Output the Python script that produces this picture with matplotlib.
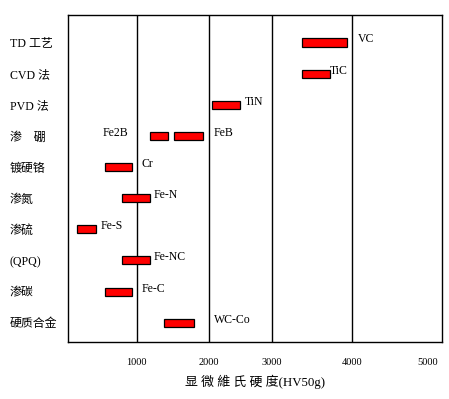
import numpy as np
import matplotlib
matplotlib.use("Agg")
import matplotlib.pyplot as plt

# ---- data ----
methods = ["TD 工艺", "CVD 法", "PVD 法", "渗　硼", "镀硬铬", "渗氮", "渗硫", "(QPQ)", "渗碳", "硬质合金"]
bar_rows = [0, 1, 2, 3, 3, 4, 5, 6, 7, 8, 9]
bar_start = [3380, 3380, 2060, 1180, 1520, 530, 790, 130, 790, 530, 1380]
bar_end = [3940, 3720, 2490, 1430, 1920, 930, 1180, 400, 1180, 930, 1800]
bar_labels = ["VC", "TiC", "TiN", "Fe2B", "FeB", "Cr", "Fe-N", "Fe-S", "Fe-NC", "Fe-C", "WC-Co"]
x_ticks = [1000, 2000, 3000, 4000, 5000]
x_tick_labels = ["1000", "2000", "3000", "4000", "5000"]
grid_values = [1000, 2000, 3000, 4000]
xlabel = "显 微 維 氏 硬 度(HV50g)"

# ---- styling / layout ----
# label side (+1 right of bar end, -1 left of bar start) and gap in pixels
label_side = [1, 1, 1, -1, 1, 1, 1, 1, 1, 1, 1]
label_gap_px = [10, 0, 5, 21, 11, 10, 4, 5, 4, 10, 20]

# non-uniform hardness axis of the original drawing (piecewise linear)
scale_hv = [0, 1000, 2000, 3000, 4000, 5000, 6000]
scale_pos = [68.3, 136.7, 208.7, 271.7, 352.3, 428.0, 504.0]

def fwd(x):
    return np.interp(x, scale_hv, scale_pos)

def inv(x):
    return np.interp(x, scale_pos, scale_hv)

CJK = ["Liberation Serif", "Noto Sans CJK SC", "DejaVu Sans"]
plt.rcParams["font.family"] = CJK

W, H = 449, 399
fig = plt.figure(figsize=(W / 100, H / 100), dpi=100)
fig.patch.set_facecolor("white")
ax = fig.add_axes([68.3 / W, 1 - 342.3 / H, 374 / W, 327 / H])
ax.set_xscale("function", functions=(fwd, inv))
ax.set_xlim(0, 5188)
ax.set_ylim(9.63, -0.874)

for v in grid_values:
    ax.axvline(v, color="black", lw=1.0, zorder=1)

ax.barh(bar_rows, np.array(bar_end) - np.array(bar_start), left=bar_start,
        height=0.26, color="#ff0000", edgecolor="black", linewidth=0.9, zorder=3)

for r, s, e, lab, side, gap in zip(bar_rows, bar_start, bar_end, bar_labels,
                                   label_side, label_gap_px):
    if side > 0:
        ax.annotate(lab, xy=(e, r), xytext=(gap * 0.72, 2.2), textcoords="offset points",
                    ha="left", va="center", fontsize=8.5, family="Liberation Serif")
    else:
        ax.annotate(lab, xy=(s, r), xytext=(-gap * 0.72, 2.2), textcoords="offset points",
                    ha="right", va="center", fontsize=8.5, family="Liberation Serif")

ax.set_yticks(range(len(methods)))
ax.set_yticklabels(methods, fontsize=8.6, ha="left")
ax.tick_params(axis="y", length=0, pad=42)

ax.set_xticks(x_ticks)
ax.set_xticklabels(x_tick_labels, fontsize=7.5)
ax.xaxis.set_minor_locator(matplotlib.ticker.NullLocator())
ax.tick_params(axis="x", length=0, pad=11)

for sp in ax.spines.values():
    sp.set_linewidth(1.0)
    sp.set_color("black")

ax.text(0.5, (342.3 - 382) / 327, xlabel, transform=ax.transAxes, ha="center", va="center",
        fontsize=9.3)

fig.savefig("out.png", dpi=100, facecolor="white")
